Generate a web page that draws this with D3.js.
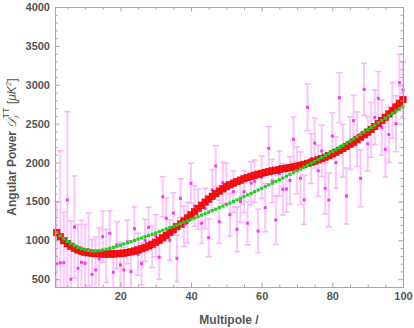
<!DOCTYPE html>
<html>
<head>
<meta charset="utf-8">
<script src="https://cdn.jsdelivr.net/npm/d3@7/dist/d3.min.js"></script>
<style>
  body { margin: 0; background: #fff; }
  svg { display: block; }
  text { font-family: "Liberation Sans", Arial, sans-serif; }
</style>
</head>
<body>
<svg id="chart" width="414" height="328"></svg>
<script>
// multipoles 2..100
const multipoles = d3.range(2, 101)

// observed band powers (pink) and their 1-sigma errors
const observed = [
  700, 710, 712, 1519, 500, 1171, 640, 717, 705, 880,
  560, 619, 760, 1047, 800, 1090, 590, 940, 683, 619,
  980, 600, 1150, 820, 700, 1000, 1167, 920, 1060, 782,
  1561, 1283, 1000, 1350, 769, 1540, 1180, 1230, 1733, 1440,
  1400, 1220, 1410, 1034, 1650, 1956, 1240, 1741, 1725, 1330,
  1625, 1142, 1500, 1625, 1220, 1735, 1760, 1120, 1810, 1420,
  2183, 1763, 1261, 1860, 1656, 1660, 1770, 2299, 1900, 1798,
  1520, 2710, 2050, 2250, 1895, 2150, 1670, 1519, 2341, 2000,
  2834, 2150, 1570, 2250, 2538, 2300, 1798, 2941, 2240, 2420,
  2580, 2826, 2450, 2170, 2360, 2670, 2500, 3027, 2933
]
const errors = [
  800, 1440, 650, 1135, 750, 656, 560, 540, 500, 470,
  450, 420, 400, 330, 340, 290, 300, 300, 290, 290,
  280, 280, 280, 270, 270, 270, 260, 270, 270, 283,
  257, 260, 260, 260, 300, 250, 260, 260, 257, 260,
  260, 260, 260, 244, 260, 261, 280, 262, 265, 275,
  266, 288, 270, 270, 280, 276, 273, 280, 274, 310,
  278, 278, 312, 290, 330, 300, 305, 287, 300, 338,
  315, 300, 320, 320, 330, 330, 330, 344, 300, 330,
  321, 340, 360, 336, 326, 350, 366, 335, 346, 352,
  353, 344, 355, 360, 358, 357, 360, 365, 364
]

// model spectrum (red squares)
const theory = [
  1100, 1045, 995, 955, 922, 896, 876, 860, 848, 840,
  834, 830, 827, 825, 824, 824, 825, 827, 831, 836,
  843, 852, 863, 876, 891, 908, 928, 950, 975, 1002,
  1032, 1065, 1100, 1137, 1176, 1210, 1248, 1288, 1328, 1369,
  1410, 1451, 1491, 1530, 1567, 1601, 1633, 1662, 1689, 1713,
  1735, 1755, 1774, 1792, 1808, 1823, 1837, 1850, 1862, 1873,
  1883, 1893, 1902, 1911, 1920, 1927, 1935, 1944, 1954, 1965,
  1977, 1990, 2004, 2019, 2035, 2052, 2070, 2090, 2111, 2133,
  2156, 2181, 2207, 2234, 2263, 2293, 2324, 2357, 2391, 2426,
  2463, 2501, 2541, 2582, 2625, 2669, 2715, 2762, 2810
]

// polynomial fit (green dots)
const fit = [
  1100, 1058, 1020, 986, 956, 931, 910, 893, 880, 871,
  865, 863, 867, 875, 885, 897, 910, 924, 938, 953,
  968, 983, 999, 1015, 1031, 1047, 1063, 1079, 1095, 1112,
  1129, 1146, 1163, 1180, 1197, 1214, 1232, 1250, 1268, 1286,
  1305, 1324, 1343, 1362, 1381, 1400, 1420, 1440, 1460, 1480,
  1500, 1520, 1541, 1562, 1583, 1604, 1625, 1647, 1669, 1691,
  1713, 1735, 1757, 1779, 1802, 1825, 1848, 1871, 1894, 1917,
  1941, 1965, 1989, 2013, 2038, 2063, 2088, 2114, 2140, 2166,
  2193, 2220, 2248, 2276, 2304, 2333, 2362, 2391, 2421, 2451,
  2481, 2511, 2541, 2571, 2601, 2631, 2661, 2692, 2722
]

const xTicks = [20, 40, 60, 80, 100]
const yTicks = [500, 1000, 1500, 2000, 2500, 3000, 3500, 4000]

const svg = d3.select('#chart')
const m = { left: 55, right: 403, top: 7, bottom: 287 }

const x = d3.scaleLinear().domain([1.5, 100]).range([m.left, m.right])
const y = d3.scaleLinear().domain([400, 4000]).range([m.bottom, m.top])

const axisColor = '#a6a6a6'
const labelColor = '#555'

const xMinor = d3.range(5, 101, 5).filter(v => v % 20 !== 0)
const yMinor = d3.range(500, 4001, 100).filter(v => v % 500 !== 0)

// draws one side of the frame: major ticks, minor ticks, optional labels
function side (axisFn, scale, pos, majors, minors, labels) {
  const g = svg.append('g').attr('transform', pos)
  g.call(axisFn(scale).tickValues(minors).tickSize(-2.5).tickFormat(''))
  const gm = svg.append('g').attr('transform', pos)
  gm.call(axisFn(scale).tickValues(majors).tickSize(-4.5).tickPadding(labels ? 5 : 0)
    .tickFormat(labels ? d3.format('d') : ''))
  ;[g, gm].forEach(s => {
    s.select('.domain').attr('stroke', axisColor).attr('stroke-width', 1)
    s.selectAll('line').attr('stroke', axisColor)
    s.selectAll('text').attr('fill', labelColor).style('font-size', '11px').style('font-weight', 'bold')
  })
}

const plot = svg.append('g')

// error bars, clipped to the frame
const bars = plot.append('g')
multipoles.forEach((l, i) => {
  const cx = x(l)
  const lo = Math.max(observed[i] - errors[i], 400)
  const hi = Math.min(observed[i] + errors[i], 4000)
  bars.append('line')
    .attr('x1', cx).attr('x2', cx)
    .attr('y1', y(lo)).attr('y2', y(hi))
    .attr('stroke', '#fcc6fc').attr('stroke-width', 2)
  ;[observed[i] - errors[i], observed[i] + errors[i]].forEach(v => {
    if (v < 400 || v > 4000) return
    bars.append('line')
      .attr('x1', cx - 3).attr('x2', cx + 3)
      .attr('y1', y(v)).attr('y2', y(v))
      .attr('stroke', '#f9b8f9').attr('stroke-width', 1.6)
  })
})

plot.append('g').selectAll('rect')
  .data(multipoles)
  .join('rect')
  .attr('x', d => x(d) - 1.5)
  .attr('y', (d, i) => y(observed[i]) - 1.5)
  .attr('width', 3).attr('height', 3)
  .attr('fill', '#f53cf5')

plot.append('g').selectAll('rect')
  .data(multipoles)
  .join('rect')
  .attr('x', d => x(d) - 3.2)
  .attr('y', (d, i) => y(theory[i]) - 3.2)
  .attr('width', 6.4).attr('height', 6.4)
  .attr('fill', '#ff1010')
  .attr('stroke', '#d80000').attr('stroke-width', 0.6)

plot.append('g').selectAll('rect')
  .data(multipoles)
  .join('rect')
  .attr('x', d => x(d) - 1.6)
  .attr('y', (d, i) => y(fit[i]) - 1.6)
  .attr('width', 3.2).attr('height', 3.2)
  .attr('fill', '#1fd21f')

side(d3.axisLeft, y, `translate(${m.left},0)`, yTicks, yMinor, true)
side(d3.axisRight, y, `translate(${m.right},0)`, yTicks, yMinor, false)
side(d3.axisBottom, x, `translate(0,${m.bottom})`, xTicks, xMinor, true)
side(d3.axisTop, x, `translate(0,${m.top})`, xTicks, xMinor, false)

// axis titles
svg.append('text')
  .attr('x', (m.left + m.right) / 2).attr('y', 324)
  .attr('text-anchor', 'middle')
  .attr('fill', labelColor)
  .style('font-size', '12px').style('font-weight', 'bold')
  .text('Multipole /')

const yl = svg.append('text')
  .attr('transform', `translate(16,${(m.top + m.bottom) / 2}) rotate(-90)`)
  .attr('text-anchor', 'middle')
  .attr('fill', labelColor)
  .style('font-size', '12px').style('font-weight', 'bold')
yl.append('tspan').text('Angular Power ')
yl.append('tspan').style('font-weight', 'normal').style('font-family', '"DejaVu Serif", serif').style('font-style', 'italic').text('𝒟')
yl.append('tspan').attr('dy', 3).style('font-size', '8px').style('font-weight', 'normal').text('/')
yl.append('tspan').attr('dy', -10).attr('dx', -3).style('font-size', '9px').style('font-weight', 'normal').text('TT')
yl.append('tspan').attr('dy', 7).style('font-weight', 'normal').text('  [')
yl.append('tspan').style('font-weight', 'normal').style('font-style', 'italic').text('μK')
yl.append('tspan').attr('dy', -5).style('font-size', '8px').style('font-weight', 'normal').text('2')
yl.append('tspan').attr('dy', 5).style('font-weight', 'normal').text(']')
</script>
</body>
</html>
